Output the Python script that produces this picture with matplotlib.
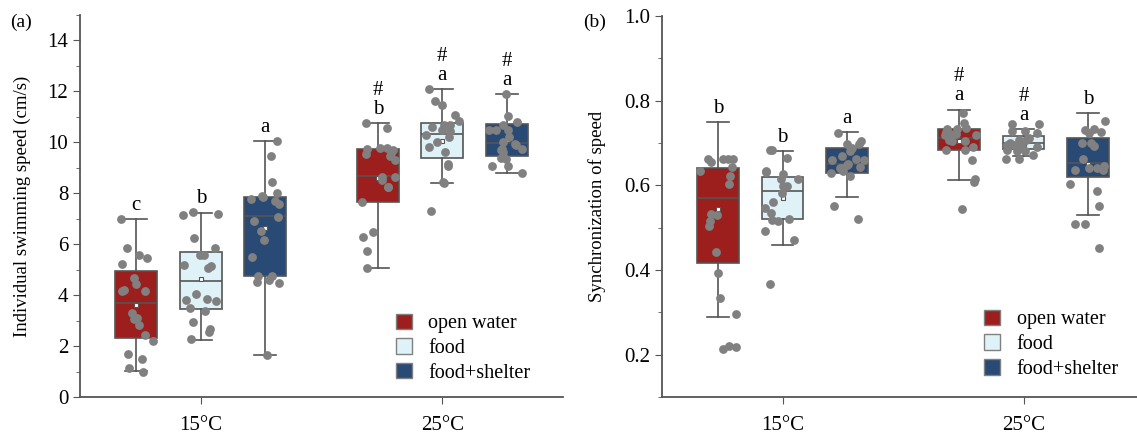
import numpy as np
import matplotlib
matplotlib.use("Agg")
import matplotlib.pyplot as plt
from matplotlib.patches import Patch
from matplotlib.ticker import MultipleLocator

plt.rcParams['font.family'] = ['Liberation Serif', 'DejaVu Serif']
plt.rcParams['font.size'] = 15

temps = ["15°C", "25°C"]
groups = ["open water", "food", "food+shelter"]
colors = ["#9c1f1d", "#dff2f8", "#2a4a76"]

# ---- panel (a): individual swimming speed, order: 15 ow, 15 food, 15 f+s, 25 ow, 25 food, 25 f+s
speed_pts = [
    [6.97, 5.86, 5.46, 5.58, 5.23, 4.69, 4.42, 4.22, 4.16, 4.16,
     3.29, 3.11, 3.06, 2.82, 2.43, 2.18, 1.70, 1.49, 0.99, 1.15],
    [7.15, 7.20, 7.25, 6.25, 5.84, 5.59, 5.59, 5.16, 5.20, 5.06,
     4.05, 3.82, 3.84, 3.78, 3.50, 3.38, 2.94, 2.68, 2.55, 2.26],
    [10.05, 9.46, 8.46, 8.02, 7.84, 7.69, 7.58, 7.78, 7.05, 6.51,
     6.18, 5.49, 4.76, 4.76, 4.47, 4.51, 1.65, 7.90, 4.60, 6.90],
    [10.77, 10.56, 9.79, 9.79, 9.69, 9.72, 9.45, 9.55, 9.29, 8.64,
     8.54, 8.64, 8.25, 8.24, 7.67, 6.47, 6.29, 5.73, 5.05, 9.60],
    [12.08, 11.61, 11.48, 11.09, 10.82, 10.69, 10.60, 10.69, 10.43, 10.27,
     10.21, 10.01, 9.62, 9.16, 9.06, 8.44, 8.42, 7.31, 10.50, 9.80],
    [11.88, 11.02, 10.78, 10.67, 10.47, 10.47, 10.47, 9.95, 10.01, 9.75,
     9.75, 9.62, 9.71, 9.39, 9.36, 9.06, 9.06, 8.80, 10.20, 9.90],
]
speed_whishi = [6.97, 7.24, 10.05, 10.77, 12.08, 11.88]
speed_q3 = [4.95, 5.70, 7.84, 9.75, 10.76, 10.73]
speed_med = [3.71, 4.55, 7.11, 8.67, 10.34, 9.97]
speed_q1 = [2.30, 3.44, 4.76, 7.67, 9.39, 9.46]
speed_whislo = [1.02, 2.25, 1.65, 5.05, 8.42, 8.80]
speed_mean = [3.62, 4.64, 6.65, 8.60, 10.05, 10.10]
speed_letters = ["c", "b", "a", "#\nb", "#\na", "#\na"]

# ---- panel (b): synchronization of speed
sync_pts = [
    [0.663, 0.663, 0.663, 0.663, 0.655, 0.643, 0.635, 0.621, 0.604, 0.531,
     0.533, 0.516, 0.503, 0.443, 0.392, 0.333, 0.295, 0.220, 0.213, 0.217],
    [0.683, 0.683, 0.665, 0.633, 0.632, 0.627, 0.615, 0.615, 0.599, 0.599,
     0.582, 0.560, 0.547, 0.535, 0.521, 0.517, 0.515, 0.491, 0.472, 0.366],
    [0.724, 0.704, 0.698, 0.698, 0.688, 0.662, 0.659, 0.651, 0.649, 0.643,
     0.641, 0.621, 0.629, 0.635, 0.640, 0.550, 0.521, 0.670, 0.660, 0.680],
    [0.771, 0.747, 0.735, 0.733, 0.732, 0.722, 0.722, 0.720, 0.718, 0.708,
     0.704, 0.704, 0.690, 0.684, 0.684, 0.659, 0.615, 0.608, 0.543, 0.727],
    [0.745, 0.745, 0.728, 0.728, 0.724, 0.712, 0.708, 0.708, 0.696, 0.696,
     0.696, 0.690, 0.690, 0.680, 0.680, 0.672, 0.663, 0.663, 0.684, 0.700],
    [0.753, 0.733, 0.730, 0.724, 0.726, 0.700, 0.700, 0.694, 0.662, 0.641,
     0.641, 0.637, 0.637, 0.645, 0.602, 0.586, 0.550, 0.509, 0.509, 0.451],
]
sync_whishi = [0.750, 0.680, 0.726, 0.779, 0.732, 0.771]
sync_q3 = [0.642, 0.619, 0.688, 0.732, 0.717, 0.712]
sync_med = [0.569, 0.587, 0.651, 0.712, 0.700, 0.653]
sync_q1 = [0.417, 0.521, 0.629, 0.683, 0.686, 0.619]
sync_whislo = [0.290, 0.458, 0.573, 0.613, 0.670, 0.531]
sync_mean = [0.545, 0.570, 0.655, 0.705, 0.693, 0.650]
sync_letters = ["b", "b", "a", "#\na", "#\na", "b"]

offsets = [-0.267, 0.0, 0.267]
box_w = 0.173
gray = "#808080"
edge = "#555555"


def draw_panel(ax, pts, whishi, q3, med, q1, whislo, mean, letters, seed):
    pos = [t + o for t in range(len(temps)) for o in offsets]
    stats = []
    for i in range(len(pos)):
        stats.append(dict(med=med[i], q1=q1[i], q3=q3[i], whislo=whislo[i],
                          whishi=whishi[i], mean=mean[i], fliers=[]))
    bp = ax.bxp(stats, positions=pos, widths=box_w, patch_artist=True,
                showmeans=True, capwidths=0.09,
                boxprops=dict(edgecolor=edge, linewidth=1.2),
                medianprops=dict(color=edge, linewidth=1.2),
                whiskerprops=dict(color=edge, linewidth=1.2),
                capprops=dict(color=edge, linewidth=1.2),
                meanprops=dict(marker="s", markersize=3.5, markerfacecolor="white",
                               markeredgecolor=edge, markeredgewidth=0.8))
    for i, b in enumerate(bp["boxes"]):
        b.set_facecolor(colors[i % 3])
    rng = np.random.default_rng(seed)
    for i, p in enumerate(pos):
        y = np.array(pts[i])
        x = p + rng.uniform(-0.075, 0.075, len(y))
        ax.scatter(x, y, s=40, color=gray, zorder=4, linewidths=0)
    for i, p in enumerate(pos):
        ax.annotate(letters[i], (p, whishi[i]), xytext=(0, 3), textcoords="offset points",
                    ha="center", va="bottom", fontsize=15, linespacing=1.0)
    ax.set_xlim(-0.5, 1.5)
    ax.set_xticks(range(len(temps)))
    ax.set_xticklabels(temps)
    for s in ["top", "right"]:
        ax.spines[s].set_visible(False)
    for s in ["left", "bottom"]:
        ax.spines[s].set_color(edge)
        ax.spines[s].set_linewidth(1.3)
    ax.tick_params(which="both", direction="out", color=edge)
    ax.tick_params(axis="x", length=5, pad=9)
    ax.tick_params(axis="y", which="major", length=5)
    ax.tick_params(axis="y", which="minor", length=3)
    handles = [Patch(facecolor=c, edgecolor=gray, label=g) for c, g in zip(colors, groups)]
    ax.legend(handles=handles, loc="lower right", frameon=False, handlelength=0.8,
              handleheight=0.8, handletextpad=0.8, labelspacing=0.25, fontsize=14.5,
              bbox_to_anchor=(0.97, -0.01))


fig = plt.figure(figsize=(11.37, 4.36), dpi=100)
ax1 = fig.add_axes([80 / 1137, 1 - 397 / 436, (563 - 80) / 1137, (397 - 15) / 436])
ax2 = fig.add_axes([662 / 1137, 1 - 397 / 436, (1144 - 662) / 1137, (397 - 16) / 436])

draw_panel(ax1, speed_pts, speed_whishi, speed_q3, speed_med, speed_q1, speed_whislo,
           speed_mean, speed_letters, 3)
ax1.set_ylim(0, 15)
ax1.yaxis.set_major_locator(MultipleLocator(2))
ax1.yaxis.set_minor_locator(MultipleLocator(1))
ax1.set_yticks(range(0, 15, 2))
ax1.set_ylabel("Individual swimming speed (cm/s)", fontsize=13.5, labelpad=12)

draw_panel(ax2, sync_pts, sync_whishi, sync_q3, sync_med, sync_q1, sync_whislo,
           sync_mean, sync_letters, 7)
ax2.set_ylim(0.1, 1.0)
ax2.set_yticks([0.2, 0.4, 0.6, 0.8, 1.0])
ax2.set_yticklabels(["0.2", "0.4", "0.6", "0.8", "1.0"])
ax2.yaxis.set_minor_locator(MultipleLocator(0.1))
ax2.set_ylabel("Synchronization of speed", fontsize=13.5, labelpad=13)
ax2.legend_.set_bbox_to_anchor((0.985, 0.0))

fig.text(10 / 1137, 1 - 22 / 436, "(a)", fontsize=14, va="center")
fig.text(583 / 1137, 1 - 22 / 436, "(b)", fontsize=14, va="center")

fig.savefig("out.png", dpi=100)
